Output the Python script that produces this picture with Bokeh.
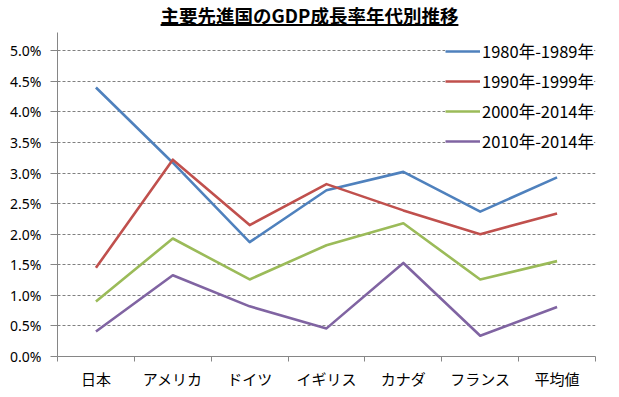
from bokeh.plotting import figure
from bokeh.models import (ColumnDataSource, FixedTicker, PrintfTickFormatter, Div,
                          Range1d, Legend, LegendItem)
from bokeh.layouts import column
from bokeh.embed import file_html
from bokeh.resources import INLINE

title_text = "主要先進国のGDP成長率年代別推移"
categories = ["日本", "アメリカ", "ドイツ", "イギリス", "カナダ", "フランス", "平均値"]
series_names = ["1980年-1989年", "1990年-1999年", "2000年-2014年", "2010年-2014年"]
s1980 = [4.40, 3.17, 1.87, 2.72, 3.02, 2.37, 2.93]
s1990 = [1.45, 3.22, 2.15, 2.82, 2.39, 2.00, 2.34]
s2000 = [0.90, 1.93, 1.26, 1.82, 2.18, 1.26, 1.56]
s2010 = [0.41, 1.33, 0.82, 0.46, 1.53, 0.34, 0.81]
y_ticks = [0.0, 0.5, 1.0, 1.5, 2.0, 2.5, 3.0, 3.5, 4.0, 4.5, 5.0]
colors = ["#4F81BD", "#C0504D", "#9BBB59", "#8064A2"]

xs = list(range(len(categories)))
src = ColumnDataSource(dict(x=xs, s1980=s1980, s1990=s1990, s2000=s2000, s2010=s2010))

title = Div(
    text=('<div style="width:619px;text-align:center;font-family:\'Noto Sans CJK JP\';'
          'font-weight:bold;font-size:18.5px;line-height:24px;padding-top:3px;color:#000;">'
          '<span style="text-decoration:underline;text-decoration-thickness:1.5px;'
          'text-underline-offset:1px;">'
          + title_text + '</span></div>'),
    width=619, height=32, margin=(0, 0, 0, 0))

p = figure(width=619, height=365, output_backend="svg", toolbar_location=None,
           x_range=Range1d(-0.5, len(categories) - 0.5), y_range=Range1d(0, 5.3),
           min_border_left=57, min_border_right=24, min_border_top=0, min_border_bottom=41,
           margin=(0, 0, 0, 0))
p.outline_line_color = None
p.background_fill_color = "white"
p.border_fill_color = "white"

keys = ["s1980", "s1990", "s2000", "s2010"]
renderers = []
for k, c in zip(keys, colors):
    r = p.line("x", k, source=src, line_color=c, line_width=2.6, line_join="round")
    renderers.append(r)

# x axis
p.xaxis.ticker = FixedTicker(ticks=xs, minor_ticks=[i - 0.5 for i in range(len(categories) + 1)])
p.xaxis.major_label_overrides = {i: c for i, c in enumerate(categories)}
p.xaxis.major_tick_out = 0
p.xaxis.major_tick_in = 0
p.xaxis.minor_tick_out = 5
p.xaxis.minor_tick_in = 0
p.xaxis.minor_tick_line_color = "#868686"
p.xaxis.axis_line_color = "#868686"
p.xaxis.major_label_text_font = "Noto Sans CJK JP"
p.xaxis.major_label_text_font_size = "15px"
p.xaxis.major_label_text_color = "#000000"
p.xaxis.major_label_standoff = 6
p.xgrid.grid_line_color = None

# y axis
p.yaxis.ticker = FixedTicker(ticks=y_ticks)
p.yaxis.formatter = PrintfTickFormatter(format="%.1f%%")
p.yaxis.major_tick_out = 7
p.yaxis.major_tick_in = 0
p.yaxis.minor_tick_line_color = None
p.yaxis.major_tick_line_color = "#868686"
p.yaxis.axis_line_color = "#868686"
p.yaxis.major_label_text_font = "Noto Sans"
p.yaxis.major_label_text_font_size = "14px"
p.yaxis.major_label_text_color = "#000000"
p.yaxis.major_label_standoff = 9
p.ygrid.ticker = FixedTicker(ticks=y_ticks[1:])
p.ygrid.grid_line_color = "#808080"
p.ygrid.grid_line_dash = "3 2"
p.ygrid.grid_line_width = 1

legend = Legend(items=[LegendItem(label=n, renderers=[r]) for n, r in zip(series_names, renderers)],
                location=(388, 203), orientation="vertical")
legend.label_text_font = "Noto Sans CJK JP"
legend.label_text_font_size = "16.5px"
legend.label_text_color = "#000000"
legend.glyph_width = 35
legend.glyph_height = 20
legend.label_height = 20
legend.label_standoff = 2
legend.spacing = 6
legend.padding = 7
legend.margin = 0
legend.border_line_color = None
legend.background_fill_color = "white"
legend.background_fill_alpha = 1.0
p.add_layout(legend)

layout = column(title, p, spacing=0)
open("out.html", "w").write(file_html(layout, INLINE))
